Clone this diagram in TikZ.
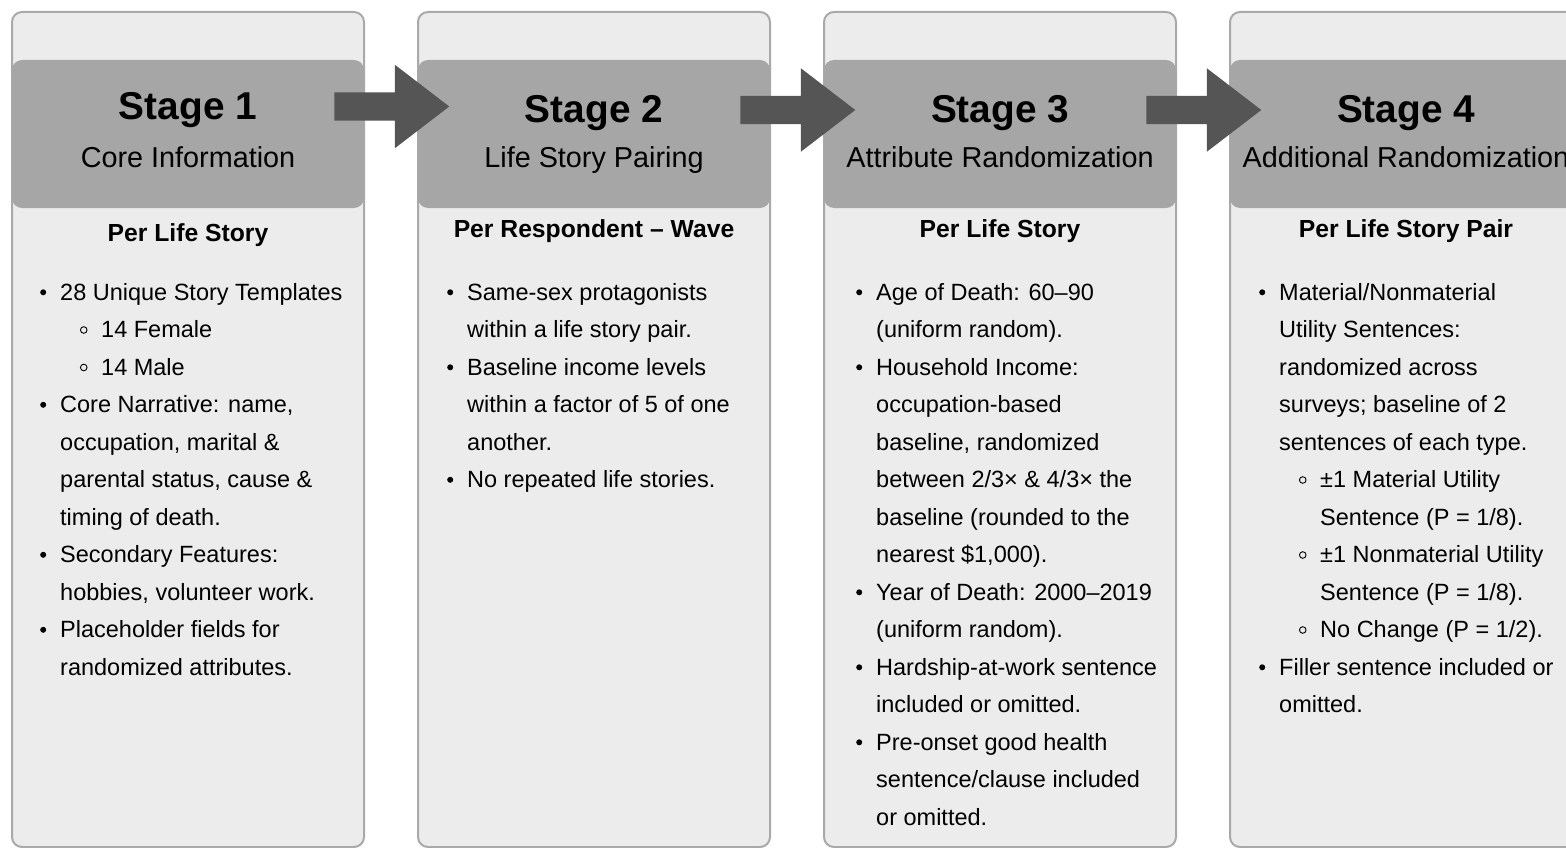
\documentclass[tikz,border=0pt]{standalone}
\usepackage{fontspec}
\setmainfont{Liberation Sans}
\usetikzlibrary{shapes.arrows,calc}

\definecolor{colfill}{HTML}{ECECEC}
\definecolor{colline}{HTML}{A9A9A9}
\definecolor{headfill}{HTML}{A6A6A6}
\definecolor{arrowfill}{HTML}{555555}

\newcommand{\bul}{\llap{\tikz[baseline={(0pt,-7.7pt)}]\fill (0pt,0pt) circle (3pt);\hspace{14pt}}}
\newcommand{\subb}{\hspace*{41pt}\llap{\tikz[baseline={(0pt,-7.5pt)}]\draw[line width=0.9pt] (0pt,0pt) circle (3.3pt);\hspace{13.7pt}}}
\newcommand{\subc}{\hspace*{41pt}}

\tikzset{
  column/.style={draw=colline, line width=2pt, fill=colfill, rounded corners=10pt,
    minimum width=352pt, minimum height=835pt, inner sep=0pt},
  header/.style={fill=headfill, rounded corners=10pt, minimum width=352pt,
    minimum height=148pt, inner sep=0pt},
  stagetitle/.style={anchor=base, inner sep=0pt, font=\fontsize{38.8}{40}\selectfont\bfseries},
  stagesub/.style={anchor=base, inner sep=0pt, font=\fontsize{28.8}{30}\selectfont},
  per/.style={anchor=base, inner sep=0pt, font=\fontsize{24.7}{26}\selectfont\bfseries},
  body/.style={anchor=base west, inner sep=0pt, font=\fontsize{23.5}{37.5}\selectfont},
  flow/.style={single arrow, fill=arrowfill, inner sep=0pt, text height=28pt, text depth=0pt,
    minimum height=115pt, single arrow head extend=27.5pt, single arrow tip angle=75,
    xshift=-8.5pt},
}

\begin{document}
\begin{tikzpicture}[x=1pt, y=-1pt]
  \useasboundingbox (0,0) rectangle (1566,848);
  \clip (0,0) rectangle (1566,848);

  % columns
  \node[column] (c1) at (188,429.5) {};
  \node[column] (c2) at (594,429.5) {};
  \node[column] (c3) at (1000,429.5) {};
  \node[column] (c4) at (1406,429.5) {};

  % headers
  \node[header] (h1) at (188,134) {};
  \node[header] (h2) at (594,134) {};
  \node[header] (h3) at (1000,134) {};
  \node[header] (h4) at (1406,134) {};

  \node[stagetitle] (t1) at (188,120) {Stage 1};
  \node[stagetitle] (t2) at (594,123) {Stage 2};
  \node[stagetitle] (t3) at (1000,123) {Stage 3};
  \node[stagetitle] (t4) at (1406,123) {Stage 4};

  \node[stagesub] (s1) at (188,167.5) {Core Information};
  \node[stagesub] (s2) at (594,167.5) {Life Story Pairing};
  \node[stagesub] (s3) at (1000,167.5) {Attribute Randomization};
  \node[stagesub] (s4) at (1406,167.5) {Additional Randomization};

  % arrows
  \node[flow, yshift=27.5pt] (a1) at ($(h1.east)!0.5!(h2.west)$) {};
  \node[flow, yshift=24pt] (a2) at ($(h2.east)!0.5!(h3.west)$) {};
  \node[flow, yshift=24pt] (a3) at ($(h3.east)!0.5!(h4.west)$) {};

  \node[per] (p1) at (188,241.5) {Per Life Story};
  \node[per] (p2) at (594,237.5) {Per Respondent – Wave};
  \node[per] (p3) at (1000,237.5) {Per Life Story};
  \node[per] (p4) at (1406,237.5) {Per Life Story Pair};

  % bodies
  \node[body] (b1) at (60,300) {\begin{tabular}[t]{@{}l@{}}
    \bul 28 Unique Story Templates\\
    \subb 14 Female\\
    \subb 14 Male\\
    \bul Core Narrative: name,\\
    occupation, marital \&\\
    parental status, cause \&\\
    timing of death.\\
    \bul Secondary Features:\\
    hobbies, volunteer work.\\
    \bul Placeholder fields for\\
    randomized attributes.
  \end{tabular}};

  \node[body] (b2) at (467,300) {\begin{tabular}[t]{@{}l@{}}
    \bul Same-sex protagonists\\
    within a life story pair.\\
    \bul Baseline income levels\\
    within a factor of 5 of one\\
    another.\\
    \bul No repeated life stories.
  \end{tabular}};

  \node[body] (b3) at (876,300) {\begin{tabular}[t]{@{}l@{}}
    \bul Age of Death: 60–90\\
    (uniform random).\\
    \bul Household Income:\\
    occupation-based\\
    baseline, randomized\\
    between 2/3× \& 4/3× the\\
    baseline (rounded to the\\
    nearest \$1,000).\\
    \bul Year of Death: 2000–2019\\
    (uniform random).\\
    \bul Hardship-at-work sentence\\
    included or omitted.\\
    \bul Pre-onset good health\\
    sentence/clause included\\
    or omitted.
  \end{tabular}};

  \node[body] (b4) at (1279,300) {\begin{tabular}[t]{@{}l@{}}
    \bul Material/Nonmaterial\\
    Utility Sentences:\\
    randomized across\\
    surveys; baseline of 2\\
    sentences of each type.\\
    \subb ±1 Material Utility\\
    \subc Sentence (P = 1/8).\\
    \subb ±1 Nonmaterial Utility\\
    \subc Sentence (P = 1/8).\\
    \subb No Change (P = 1/2).\\
    \bul Filler sentence included or\\
    omitted.
  \end{tabular}};
\end{tikzpicture}
\end{document}
